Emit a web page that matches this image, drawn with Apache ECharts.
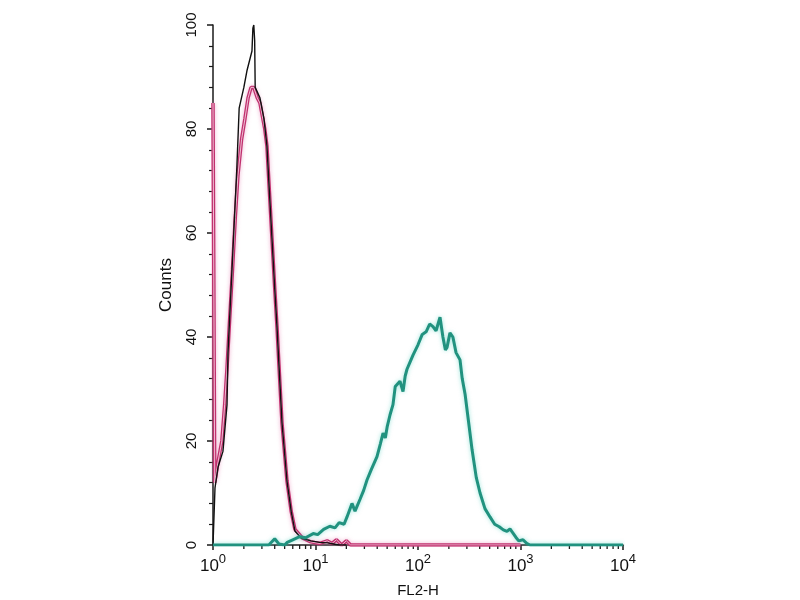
<!DOCTYPE html>
<html><head><meta charset="utf-8">
<script src="https://cdn.jsdelivr.net/npm/echarts@6/dist/echarts.min.js"></script>
<style>html,body{margin:0;padding:0;background:#fff}#c{width:800px;height:600px}</style>
</head><body><div id="c"></div>
<script>
// ---- data ----
const xTickValues = [1, 10, 100, 1000, 10000];
const xTickExponents = ['0', '1', '2', '3', '4'];
const xMinorTicks = [2,3,4,5,6,7,8,9, 20,30,40,50,60,70,80,90, 200,300,400,500,600,700,800,900, 2000,3000,4000,5000,6000,7000,8000,9000];
const yTickValues = [0, 20, 40, 60, 80, 100];

const blackX = [1, 1.046, 1.12, 1.25, 1.37, 1.4, 1.55, 1.71, 1.8, 2.0, 2.15, 2.4, 2.45, 2.5, 2.55, 2.58, 2.87, 3.14, 3.36, 3.55, 3.76, 4.0, 4.21, 4.4, 4.71, 5.27, 5.8, 6.3, 7.3, 9, 11, 13.2, 15, 17, 20];
const blackY = [0, 11, 15, 18, 27, 37, 55, 72.7, 84, 88, 91.3, 95, 99.4, 100, 97, 88, 86, 82, 76.7, 67.9, 59, 49.4, 42, 34.6, 23.5, 12.3, 6.4, 2.7, 1.3, 0.8, 0.5, 0.4, 0.2, 0, 0];

const pinkX = [1, 1.04, 1.08, 1.12, 1.17, 1.22, 1.3, 1.37, 1.45, 1.55, 1.65, 1.75, 1.9, 2.05, 2.2, 2.35, 2.5, 2.7, 2.87, 3.2, 3.36, 3.55, 3.76, 4.0, 4.21, 4.4, 4.71, 5.27, 5.8, 6.3, 7.5, 9, 11, 13, 14.5, 16, 18, 20, 22, 1000];
const pinkY = [85, 12, 14, 16, 18, 20, 27, 34, 43, 53, 63, 71, 78, 82, 86, 88, 88, 86, 85, 80, 76.7, 68, 59, 49.4, 42, 34.6, 23.5, 12.3, 6.4, 3, 1.3, 0.6, 0.3, 0.8, 0.3, 1.0, 0, 0.8, 0, 0];

const tealX = [1, 3.5, 4.0, 4.4, 5.0, 5.3, 6.0, 7.0, 8.0, 9.5, 10.5, 12, 13.8, 15.5, 17, 19, 20.3, 22.7, 24.3, 27.2, 29.5, 31.8, 35, 39.8, 43, 45.6, 48, 50, 53.3, 57, 60, 66.7, 71.4, 75, 78.1, 85, 89.4, 100, 110, 120, 130, 140, 150, 164, 175, 185, 192, 205, 219, 235, 257, 270, 288, 310, 337, 370, 403, 450, 504, 560, 620, 680, 738, 790, 845, 900, 960, 1058, 1150, 1238, 10000];
const tealY = [0, 0, 1.2, 0.2, 0, 0.5, 1.0, 1.6, 1.4, 2.2, 2.0, 3.0, 3.6, 3.3, 4.3, 4.0, 5.4, 8.0, 6.5, 8.8, 10.5, 12.5, 14.5, 17.0, 19.5, 21.5, 20.6, 22.7, 25, 27, 30.5, 31.5, 29.5, 32.5, 33.8, 35.5, 36.5, 38.5, 40.5, 41, 42.5, 42, 41.2, 43.8, 40, 37.5, 38, 40.8, 40, 37, 35.6, 32, 29, 24, 18.3, 13, 10, 7, 5.4, 4, 3.5, 2.9, 2.6, 3.1, 2.3, 1.5, 0.8, 1.0, 0.3, 0, 0];

const xName = 'FL2-H';
const yName = 'Counts';

function zip(xs, ys) { return xs.map((x, i) => [x, ys[i]]); }

const chart = echarts.init(document.getElementById('c'), null, { renderer: 'canvas' });
const labelFont = 'Liberation Sans, Arial, sans-serif';

chart.setOption({
  animation: false,
  backgroundColor: '#fff',
  grid: { left: 213, right: 177, top: 25, bottom: 55, containLabel: false, outerBoundsMode: 'none' },
  xAxis: {
    type: 'log', logBase: 10, min: 1, max: 10000,
    name: xName, nameLocation: 'middle', nameGap: 38,
    nameTextStyle: { fontFamily: labelFont, fontSize: 15, color: '#111' },
    axisLine: { lineStyle: { color: '#1a1a1a', width: 1.5 } },
    axisTick: { show: true, length: 5, inside: false, lineStyle: { color: '#1a1a1a', width: 1.5 } },
    minorTick: { show: false },
    splitLine: { show: false },
    axisLabel: {
      margin: 8,
      formatter: function (v) {
        const i = xTickValues.indexOf(v);
        const e = i >= 0 ? xTickExponents[i] : String(Math.round(Math.log10(v)));
        return '{b|10}{s|' + e + '}';
      },
      rich: {
        b: { fontFamily: labelFont, fontSize: 17, color: '#111', verticalAlign: 'bottom' },
        s: { fontFamily: labelFont, fontSize: 13, color: '#111', padding: [0, 0, 9, 0], verticalAlign: 'bottom' }
      }
    }
  },
  yAxis: {
    type: 'value', min: 0, max: 100, interval: 20,
    name: yName, nameLocation: 'middle', nameGap: 38,
    nameTextStyle: { fontFamily: labelFont, fontSize: 17, color: '#111' },
    axisLine: { show: true, lineStyle: { color: '#1a1a1a', width: 1.5 } },
    axisTick: { show: true, length: 6, lineStyle: { color: '#1a1a1a', width: 1.5 } },
    minorTick: { show: true, splitNumber: 5, length: 4, lineStyle: { color: '#1a1a1a', width: 1.2 } },
    splitLine: { show: false },
    axisLabel: {
      rotate: 90, margin: 14, fontFamily: labelFont, fontSize: 15, color: '#111',
      formatter: v => yTickValues.indexOf(v) >= 0 ? String(v) : ''
    }
  },
  series: [
    {
      type: 'custom', silent: true, clip: false, z: 1,
      data: xMinorTicks.map(v => [v, 0]),
      renderItem: function (params, api) {
        const p = api.coord([api.value(0), 0]);
        return { type: 'line', shape: { x1: p[0], y1: p[1], x2: p[0], y2: p[1] + 4 },
                 style: { stroke: '#1a1a1a', lineWidth: 1.3 } };
      }
    },
    {
      name: 'pink', type: 'line', data: zip(pinkX, pinkY), showSymbol: false, z: 3,
      lineStyle: { color: '#c0306e', width: 3.5, shadowColor: 'rgba(230,130,180,0.6)', shadowBlur: 4 }
    },
    {
      name: 'pinkCore', type: 'line', data: zip(pinkX, pinkY), showSymbol: false, z: 4,
      lineStyle: { color: 'rgba(255,235,244,0.75)', width: 1 }
    },
    {
      name: 'black', type: 'line', data: zip(blackX, blackY), showSymbol: false, z: 5,
      lineStyle: { color: '#111', width: 1.4 }
    },
    {
      name: 'teal', type: 'line', data: zip(tealX, tealY), showSymbol: false, z: 6,
      lineStyle: { color: '#21927f', width: 3, shadowColor: 'rgba(90,210,195,0.6)', shadowBlur: 4 }
    }
  ]
});
</script>
</body></html>
